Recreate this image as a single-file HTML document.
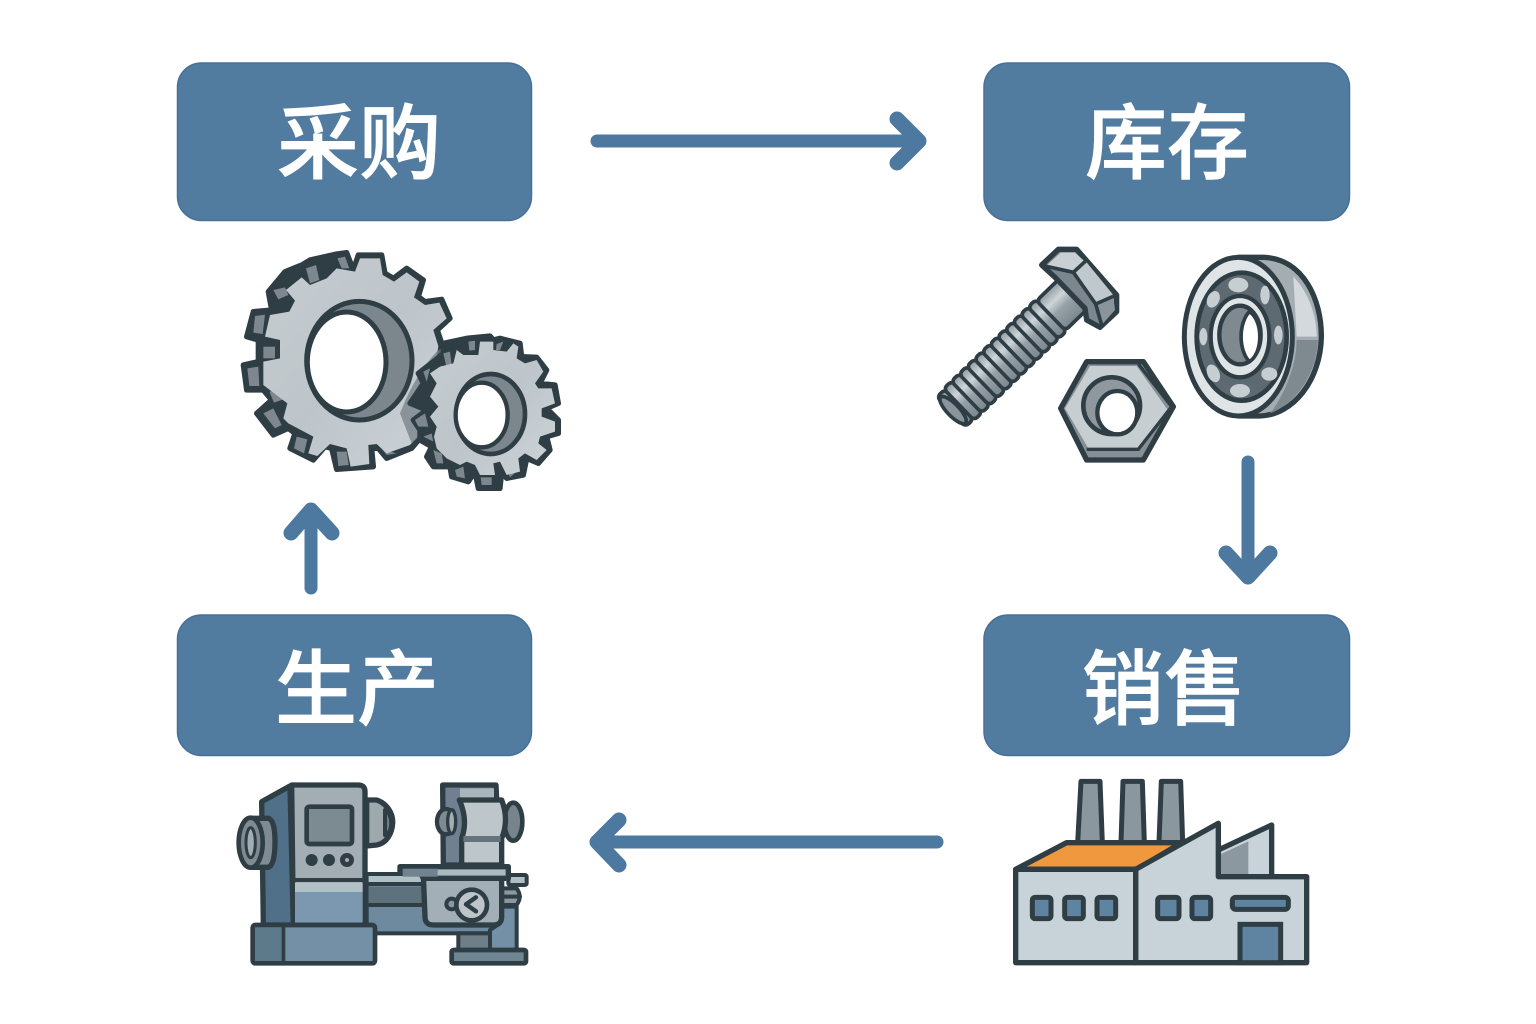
<!DOCTYPE html>
<html lang="zh">
<head>
<meta charset="utf-8">
<title>采购 库存 销售 生产</title>
<style>
html,body{margin:0;padding:0;background:#fff}
svg{display:block}
.l{font-family:"Liberation Sans","Noto Sans CJK SC",sans-serif;font-size:82px;font-weight:500;fill:#fff;stroke:#fff;stroke-width:.8;text-anchor:middle}
.a{fill:none;stroke:#4d789f;stroke-width:13;stroke-linecap:round;stroke-linejoin:round}
.h{fill:none;stroke:#4d789f;stroke-width:15;stroke-linecap:round;stroke-linejoin:round}
.d{stroke:#2f3d44;stroke-width:16;stroke-linejoin:round;stroke-linecap:round}
.t{stroke:#2f3d44;stroke-width:12;stroke-linejoin:round;stroke-linecap:round}
</style>
</head>
<body>
<svg width="1536" height="1024" viewBox="0 0 1536 1024" xmlns="http://www.w3.org/2000/svg">
<defs>
<linearGradient id="g1" x1="0" y1="0" x2="1" y2="1"><stop offset="0" stop-color="#c6cdd1"/><stop offset=".5" stop-color="#bdc5ca"/><stop offset="1" stop-color="#cdd4d8"/></linearGradient>
<linearGradient id="th" x1="0" y1="0" x2="0" y2="1"><stop offset="0" stop-color="#8e999f"/><stop offset=".3" stop-color="#cdd5d9"/><stop offset=".55" stop-color="#96a1a7"/><stop offset="1" stop-color="#7a858c"/></linearGradient>
</defs>
<rect width="1536" height="1024" fill="#fff"/>

<!-- boxes -->
<g fill="#527ba0" stroke="#45709a" stroke-width="1.5">
<rect x="177.500" y="63" width="354" height="157.500" rx="24"/>
<rect x="984" y="63" width="365.500" height="157.500" rx="24"/>
<rect x="177.500" y="615" width="354" height="140.500" rx="24"/>
<rect x="984" y="615" width="365.500" height="140.500" rx="24"/>
</g>
<text class="l" x="359" y="172">采购</text>
<text class="l" x="1167" y="172">库存</text>
<text class="l" x="357" y="718">生产</text>
<text class="l" x="1164" y="718">销售</text>

<!-- arrows -->
<path class="a" d="M597 141H915"/><path class="h" d="M897 119L919 141L897 163"/>
<path class="a" d="M1248 462V572"/><path class="h" d="M1226 553L1248 577L1270 553"/>
<path class="a" d="M311 588V515"/><path class="h" d="M291 533L311 510L332 533"/>
<path class="a" d="M937 842H602"/><path class="h" d="M619 820L597 842L619 865"/>

<!-- gears -->
<g transform="translate(230,240) scale(.33333)">
<path class="d" fill="#2f3d44" d="M215 75L240 60L320 42L350 38L370 90L385 45L455 45L465 100L490 115L530 85L580 120L565 170L585 185L635 178L660 235L622 270L635 310L600 560L545 625L470 655L445 625L425 625L430 680L320 688L305 625L285 620L250 660L180 625L195 580L175 565L130 585L80 520L125 480L100 450L50 450L40 375L85 365L85 300L50 290L70 215L125 210L115 155L165 95Z"/>
<g fill="#7d878d">
<path d="M228 85L258 75L268 120L240 130Z"/>
<path d="M322 55L345 50L358 85L335 85Z"/>
<path d="M130 150L165 142L175 165L145 178Z"/>
<path d="M75 228L105 224L98 282L70 278Z"/>
<path d="M100 320L135 320L135 355L100 355Z"/>
<path d="M52 385L85 380L88 438L58 438Z"/>
<path d="M118 455L150 448L160 478L132 488Z"/>
<path d="M100 520L130 505L155 555L135 565Z"/>
<path d="M200 590L232 598L222 640L192 625Z"/>
<path d="M320 635L350 635L356 675L325 678Z"/>
<path d="M450 620L480 635L500 640L470 645Z"/>
</g>
<path fill="url(#g1)" d="M390 55L450 55L458 105L492 125L530 97L568 125L552 172L585 195L628 188L650 235L610 270L625 318L590 560L540 615L470 640L440 612L415 615L418 672L362 680L350 625L300 612L262 648L235 640L250 590L175 550L160 535L172 490L100 435L100 365L150 355L150 300L105 290L120 225L178 215L195 182L168 150L215 112L240 135L290 115L320 85L375 95Z"/>
<ellipse cx="388" cy="362" rx="158" ry="178" fill="#7c878d" stroke="#2f3d44" stroke-width="15"/>
<ellipse cx="350" cy="366" rx="118" ry="150" fill="#fff" stroke="#2f3d44" stroke-width="15"/>
<path d="M510 520C530 470 560 400 620 335L640 320L600 560L545 610Z" fill="#6f7a80" opacity=".7"/>
<path class="d" fill="#2f3d44" d="M640 310L710 295L780 288L790 300L810 295L870 310L875 350L920 352L950 390L930 430L975 435L985 490L950 505L985 540L985 580L950 590L960 630L925 670L890 655L880 705L830 715L815 695L810 745L745 745L735 695L715 725L665 710L660 680L610 680L590 650L605 620L570 600L570 570L550 540L590 510L540 490L580 430L565 400L610 365L640 340Z"/>
<g fill="#7d878d">
<path d="M715 305L735 302L735 330L718 332Z"/>
<path d="M800 312L820 305L810 330L798 330Z"/>
<path d="M640 340L660 335L665 375L648 375Z"/>
<path d="M580 395L600 385L590 425Z"/>
<path d="M555 540L585 520L595 560L565 560Z"/>
<path d="M580 590L605 580L610 605Z"/>
<path d="M610 630L635 640L640 670L620 670Z"/>
<path d="M675 690L700 680L705 715L680 710Z"/>
<path d="M752 712L785 712L785 735L755 735Z"/>
<path d="M835 700L860 695L840 712Z"/>
</g>
<path fill="url(#g1)" d="M680 330L700 345L745 345L750 305L790 305L790 330L830 335L850 310L865 320L860 355L885 370L920 360L940 395L915 430L925 445L965 445L975 490L935 505L935 530L975 545L975 575L930 590L925 610L950 630L920 660L885 640L865 655L870 695L830 705L810 665L790 670L795 705L750 705L735 675L710 665L690 675L650 655L620 625L612 590L620 560L600 530L625 500L600 470L620 430L600 400L630 380L670 370Z"/>
<ellipse cx="782" cy="522" rx="103" ry="120" fill="#7c878d" stroke="#2f3d44" stroke-width="14"/>
<ellipse cx="755" cy="525" rx="78" ry="97" fill="#fff" stroke="#2f3d44" stroke-width="13"/>
</g>

<!-- bolt, nut, bearing -->
<g transform="translate(930,240) scale(.33333)">
<g transform="translate(85,495) rotate(-44)">
<g fill="url(#th)" stroke="#2f3d44" stroke-width="11">
<rect x="-30" y="-62" width="34" height="124" rx="14"/>
<rect x="2" y="-66" width="34" height="132" rx="14"/>
<rect x="34" y="-66" width="34" height="132" rx="14"/>
<rect x="66" y="-66" width="34" height="132" rx="14"/>
<rect x="98" y="-66" width="34" height="132" rx="14"/>
<rect x="130" y="-66" width="34" height="132" rx="14"/>
<rect x="162" y="-66" width="34" height="132" rx="14"/>
<rect x="194" y="-66" width="34" height="132" rx="14"/>
<rect x="226" y="-66" width="34" height="132" rx="14"/>
<rect x="258" y="-66" width="34" height="132" rx="14"/>
<rect x="290" y="-66" width="34" height="132" rx="14"/>
<rect x="322" y="-66" width="34" height="132" rx="14"/>
<rect x="354" y="-66" width="34" height="132" rx="14"/>
<rect x="386" y="-62" width="95" height="124" rx="14"/>
</g>
<ellipse cx="-22" cy="0" rx="18" ry="54" fill="#8a959b" stroke="#2f3d44" stroke-width="11"/>
</g>
<path class="d" fill="#7c878d" d="M335 75L385 28L440 28L560 165L560 215L510 262L470 240L465 205L375 112Z"/>
<path fill="#c8d0d4" d="M348 78L392 38L435 38L465 65L430 95Z"/>
<path fill="#bfc8cc" d="M435 100L468 65L550 165L495 190Z"/>
<path fill="#8a959b" d="M497 192L550 170L555 210L515 255Z"/>
<path d="M430 97L468 62M497 192L552 168M497 192L515 255M345 78L430 97L497 192" fill="none" stroke="#2f3d44" stroke-width="11" stroke-linejoin="round"/>

<path class="d" fill="#858f95" d="M470 365L640 365L730 500L640 660L470 660L392 505Z"/>
<path fill="#c6ced2" d="M480 378L620 378L712 508L625 625L475 625L405 505Z"/>
<path fill="none" stroke="#2f3d44" stroke-width="10" d="M625 372L725 500L625 628L470 628"/>
<ellipse cx="545" cy="497" rx="85" ry="85" fill="#8e989e" stroke="#2f3d44" stroke-width="14"/>
<ellipse cx="562" cy="518" rx="60" ry="65" fill="#fff" stroke="#2f3d44" stroke-width="13"/>

<path class="d" fill="#a4adb2" d="M925 52L1000 52C1120 55 1175 180 1174 290C1172 420 1090 525 990 528L925 528Z"/>
<path d="M1090 110C1130 150 1160 220 1160 290L1100 290Z" fill="#d3d9dc"/>
<path d="M1100 300H1164C1160 400 1100 490 1020 520C1060 470 1100 380 1100 300Z" fill="#7f8a90"/>
<ellipse cx="925" cy="290" rx="162" ry="238" fill="#dfe4e7" stroke="#2f3d44" stroke-width="15"/>
<ellipse cx="935" cy="290" rx="135" ry="192" fill="#5d6a71" stroke="#2f3d44" stroke-width="14"/>
<g fill="#c7ced2">
<ellipse cx="925" cy="135" rx="30" ry="22"/>
<ellipse cx="850" cy="178" rx="18" ry="26" transform="rotate(25 850 178)"/>
<ellipse cx="1005" cy="165" rx="14" ry="28"/>
<ellipse cx="820" cy="290" rx="12" ry="26"/>
<ellipse cx="1045" cy="285" rx="13" ry="28"/>
<ellipse cx="850" cy="400" rx="18" ry="28" transform="rotate(-25 850 400)"/>
<ellipse cx="1018" cy="402" rx="24" ry="20"/>
<ellipse cx="930" cy="452" rx="30" ry="20"/>
</g>
<ellipse cx="930" cy="290" rx="88" ry="122" fill="#dfe4e7" stroke="#2f3d44" stroke-width="13"/>
<ellipse cx="930" cy="285" rx="62" ry="88" fill="#7f8a90" stroke="#2f3d44" stroke-width="13"/>
<path d="M958 215C1000 240 1000 340 958 365C925 330 925 250 958 215Z" fill="#fff" stroke="#2f3d44" stroke-width="11"/>
</g>

<!-- lathe -->
<g transform="translate(230,770) scale(.33333)">
<path class="d" fill="#9ea9ae" d="M410 90L440 90C470 100 490 130 488 160C486 190 470 220 440 225L410 228Z"/>
<path class="t" fill="#6f7d86" d="M465 120C490 130 490 190 465 195Z"/>
<path class="d" fill="#4f7088" d="M95 95L180 48L190 465L100 465Z"/>
<path class="d" fill="#a3aeb4" d="M185 45L385 45Q405 45 405 65L405 465L190 465Z"/>
<rect x="195" y="338" width="203" height="28" fill="#b0c2c5"/>
<rect x="195" y="366" width="203" height="92" fill="#7c98b0"/>
<path d="M190 330H405" class="t" fill="none"/>
<rect x="230" y="110" width="136" height="112" rx="8" fill="#7c8a91" stroke="#2f3d44" stroke-width="14"/>
<circle cx="245" cy="270" r="18" fill="#2f3d44"/>
<circle cx="297" cy="270" r="18" fill="#2f3d44"/>
<circle cx="351" cy="270" r="21" fill="#2f3d44"/>
<circle cx="351" cy="270" r="6" fill="#a3aeb4"/>
<path class="d" fill="#7f8b91" d="M65 145L115 145Q135 150 135 215Q135 285 115 292L65 292Z"/>
<ellipse cx="62" cy="218" rx="36" ry="75" fill="#7f8b91" stroke="#2f3d44" stroke-width="14"/>
<ellipse cx="62" cy="218" rx="14" ry="45" fill="#a3aeb4" stroke="#2f3d44" stroke-width="9"/>

<rect x="410" y="312" width="375" height="178" fill="#6d8a9f" stroke="#2f3d44" stroke-width="12"/>
<rect x="416" y="318" width="165" height="18" fill="#b0c2c5"/>
<rect x="416" y="350" width="165" height="50" fill="#5e727d"/>
<path d="M410 342H580M410 405H590" class="t" fill="none"/>

<rect x="68" y="465" width="367" height="115" rx="8" fill="#7390a6" stroke="#2f3d44" stroke-width="14"/>
<rect x="75" y="472" width="83" height="101" fill="#5d7a8b"/>
<rect x="155" y="468" width="11" height="110" fill="#2f3d44"/>

<path class="d" fill="#708090" d="M638 45L798 45L800 90L815 285L640 285Z"/>
<rect x="690" y="55" width="102" height="30" fill="#a8b6bb"/>
<ellipse cx="850" cy="155" rx="27" ry="57" fill="#77848c" stroke="#2f3d44" stroke-width="14"/>
<path class="d" fill="#bdc7cb" d="M688 90L815 90Q838 150 815 205L815 285L695 285L695 205Q715 150 688 90Z"/>
<rect x="700" y="198" width="112" height="18" fill="#66747d"/>
<ellipse cx="648" cy="155" rx="27" ry="38" fill="#7f8b91" stroke="#2f3d44" stroke-width="13"/>
<ellipse cx="665" cy="155" rx="12" ry="36" fill="#a3aeb4" stroke="#2f3d44" stroke-width="10"/>

<path class="t" fill="#7390a6" d="M810 410L860 410L860 540L780 540L780 480L810 460Z"/>
<path class="t" fill="#8b989f" d="M815 355L860 355Q878 380 860 405L815 405Z"/>
<path d="M815 380H870" class="t" fill="none"/>
<rect x="835" y="315" width="55" height="30" rx="5" fill="#b0bfc4" stroke="#2f3d44" stroke-width="12"/>
<path class="d" fill="#a3afb6" d="M580 315L815 315L815 440Q815 465 790 465L610 465Q585 465 585 440Z"/>
<path class="d" fill="#a9bac1" d="M510 290L835 290L835 325L580 325L570 308L510 305Z"/>
<rect x="518" y="296" width="105" height="24" fill="#70838f"/>
<circle cx="665" cy="402" r="16" fill="#8b989f" stroke="#2f3d44" stroke-width="12"/>
<circle cx="725" cy="405" r="46" fill="#bcc6ca" stroke="#2f3d44" stroke-width="14"/>
<path d="M738 382L708 403L738 424" fill="none" stroke="#2f3d44" stroke-width="13" stroke-linecap="round" stroke-linejoin="round"/>
<rect x="685" y="490" width="95" height="52" fill="#6e7f8a" stroke="#2f3d44" stroke-width="12"/>
<rect x="665" y="540" width="223" height="40" rx="6" fill="#6e8592" stroke="#2f3d44" stroke-width="14"/>
</g>

<!-- factory -->
<g transform="translate(1005,770) scale(.33333)">
<g fill="#8b979f" stroke="#2f3d44" stroke-width="15" stroke-linejoin="round">
<path d="M228 34L285 34L292 218L218 218Z"/>
<path d="M354 34L412 34L418 218L348 218Z"/>
<path d="M469 34L527 34L533 218L462 218Z"/>
</g>
<path class="d" fill="#c7d3d9" d="M640 240L800 165L800 322L640 322Z"/>
<path fill="#8b989f" d="M648 252L730 214L730 312L648 312Z"/>
<path d="M32 298L185 218L530 218L395 298Z" fill="#ef983d" stroke="#2f3d44" stroke-width="16" stroke-linejoin="round"/>
<path d="M392 298L640 160L640 320L905 320L905 578L392 578Z" fill="#c7d3d9" stroke="#2f3d44" stroke-width="16" stroke-linejoin="round"/>
<rect x="32" y="298" width="360" height="280" fill="#c7d3d9" stroke="#2f3d44" stroke-width="16" stroke-linejoin="round"/>
<g fill="#5f84a2" stroke="#2f3d44" stroke-width="15">
<rect x="82" y="382" width="56" height="64" rx="8"/>
<rect x="179" y="382" width="56" height="64" rx="8"/>
<rect x="276" y="382" width="56" height="64" rx="8"/>
<rect x="458" y="382" width="64" height="64" rx="8"/>
<rect x="561" y="382" width="56" height="64" rx="8"/>
<rect x="682" y="382" width="168" height="36" rx="10"/>
<rect x="705" y="463" width="122" height="115"/>
</g>
</g>
</svg>
</body>
</html>
